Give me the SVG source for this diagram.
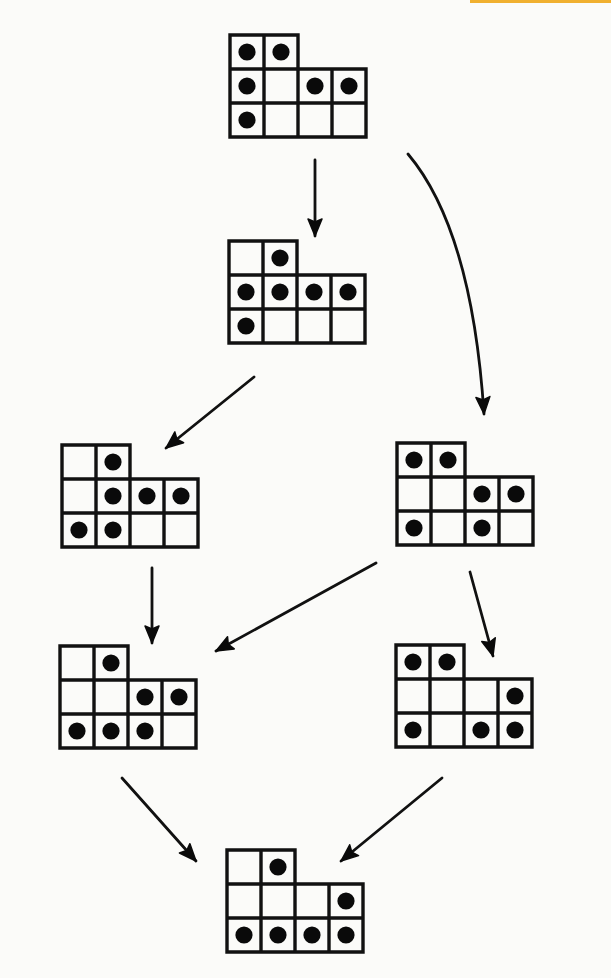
<svg xmlns="http://www.w3.org/2000/svg" xmlns:xlink="http://www.w3.org/1999/xlink" width="611" height="978" viewBox="0 0 611 978">
<style>
.grid{fill:none;stroke:#111;stroke-width:3.4;stroke-linejoin:miter;stroke-linecap:square}
.dot{fill:#0a0a0a}
.edge{fill:none;stroke:#111;stroke-width:2.8;stroke-linecap:round}
</style>
<defs>
<marker id="ah" markerUnits="userSpaceOnUse" markerWidth="24" markerHeight="20" viewBox="-20 -10 24 20" refX="0" refY="0" orient="auto">
<path d="M0,0 L-17,-7 L-14,0 L-17,7 Z" fill="#0a0a0a" stroke="#0a0a0a" stroke-width="1.5" stroke-linejoin="round"/>
</marker>
<path id="g" class="grid" d="M0,0 H68 V34 H136 V102 H0 Z M34,0 V102 M68,34 V102 M102,34 V102 M0,34 H68 M0,68 H136"/>
</defs>
<rect width="611" height="978" fill="#fbfbf9"/>
<rect x="470" y="0" width="141" height="3" fill="#f0b030"/>
<g id="connectors">
<path class="edge" marker-end="url(#ah)" d="M315,160 L315,236"/>
<path class="edge" marker-end="url(#ah)" d="M408,154 Q472,230 484,414"/>
<path class="edge" marker-end="url(#ah)" d="M254,377 L166,448"/>
<path class="edge" marker-end="url(#ah)" d="M152,568 L152,643"/>
<path class="edge" marker-end="url(#ah)" d="M376,563 L216,651"/>
<path class="edge" marker-end="url(#ah)" d="M470,572 L493,656"/>
<path class="edge" marker-end="url(#ah)" d="M122,778 L196,861"/>
<path class="edge" marker-end="url(#ah)" d="M442,778 L341,861"/>
</g>
<g id="n1" transform="translate(230,35)">
<use href="#g"/>
<circle class="dot" cx="17" cy="17" r="8.6"/><circle class="dot" cx="51" cy="17" r="8.6"/>
<circle class="dot" cx="17" cy="51" r="8.6"/><circle class="dot" cx="85" cy="51" r="8.6"/><circle class="dot" cx="119" cy="51" r="8.6"/>
<circle class="dot" cx="17" cy="85" r="8.6"/>
</g>
<g id="n2" transform="translate(229,241)">
<use href="#g"/>
<circle class="dot" cx="51" cy="17" r="8.6"/>
<circle class="dot" cx="17" cy="51" r="8.6"/><circle class="dot" cx="51" cy="51" r="8.6"/><circle class="dot" cx="85" cy="51" r="8.6"/><circle class="dot" cx="119" cy="51" r="8.6"/>
<circle class="dot" cx="17" cy="85" r="8.6"/>
</g>
<g id="n3" transform="translate(62,445)">
<use href="#g"/>
<circle class="dot" cx="51" cy="17" r="8.6"/>
<circle class="dot" cx="51" cy="51" r="8.6"/><circle class="dot" cx="85" cy="51" r="8.6"/><circle class="dot" cx="119" cy="51" r="8.6"/>
<circle class="dot" cx="17" cy="85" r="8.6"/><circle class="dot" cx="51" cy="85" r="8.6"/>
</g>
<g id="n4" transform="translate(397,443)">
<use href="#g"/>
<circle class="dot" cx="17" cy="17" r="8.6"/><circle class="dot" cx="51" cy="17" r="8.6"/>
<circle class="dot" cx="85" cy="51" r="8.6"/><circle class="dot" cx="119" cy="51" r="8.6"/>
<circle class="dot" cx="17" cy="85" r="8.6"/><circle class="dot" cx="85" cy="85" r="8.6"/>
</g>
<g id="n5" transform="translate(60,646)">
<use href="#g"/>
<circle class="dot" cx="51" cy="17" r="8.6"/>
<circle class="dot" cx="85" cy="51" r="8.6"/><circle class="dot" cx="119" cy="51" r="8.6"/>
<circle class="dot" cx="17" cy="85" r="8.6"/><circle class="dot" cx="51" cy="85" r="8.6"/><circle class="dot" cx="85" cy="85" r="8.6"/>
</g>
<g id="n6" transform="translate(396,645)">
<use href="#g"/>
<circle class="dot" cx="17" cy="17" r="8.6"/><circle class="dot" cx="51" cy="17" r="8.6"/>
<circle class="dot" cx="119" cy="51" r="8.6"/>
<circle class="dot" cx="17" cy="85" r="8.6"/><circle class="dot" cx="85" cy="85" r="8.6"/><circle class="dot" cx="119" cy="85" r="8.6"/>
</g>
<g id="n7" transform="translate(227,850)">
<use href="#g"/>
<circle class="dot" cx="51" cy="17" r="8.6"/>
<circle class="dot" cx="119" cy="51" r="8.6"/>
<circle class="dot" cx="17" cy="85" r="8.6"/><circle class="dot" cx="51" cy="85" r="8.6"/><circle class="dot" cx="85" cy="85" r="8.6"/><circle class="dot" cx="119" cy="85" r="8.6"/>
</g>
</svg>
